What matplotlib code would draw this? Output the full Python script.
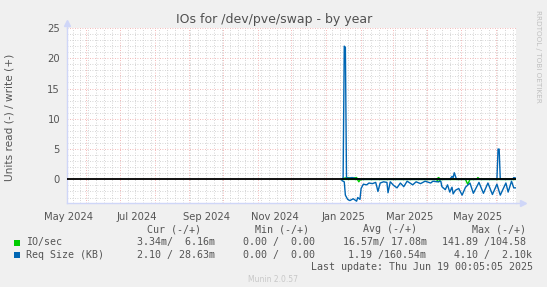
import matplotlib
matplotlib.use('Agg')
import matplotlib.pyplot as plt
import matplotlib.dates as mdates
import pandas as pd

# --- data ---
x_start = '2024-05-15 00:05'
x_end = '2025-06-19 00:05'

# Req Size (KB), read (drawn negative)
req_read_dates = ['2025-01-15', '2025-01-17', '2025-01-18', '2025-01-20', '2025-01-22', '2025-01-25',
                  '2025-01-28', '2025-01-29', '2025-01-31', '2025-02-01', '2025-02-03', '2025-02-06',
                  '2025-02-08', '2025-02-11', '2025-02-14', '2025-02-15', '2025-02-16', '2025-02-18',
                  '2025-02-21', '2025-02-24', '2025-02-25', '2025-02-27', '2025-03-02', '2025-03-05',
                  '2025-03-08', '2025-03-11', '2025-03-14', '2025-03-19', '2025-03-22', '2025-03-26',
                  '2025-03-30', '2025-04-04', '2025-04-06', '2025-04-10', '2025-04-13', '2025-04-14',
                  '2025-04-17', '2025-04-19', '2025-04-21', '2025-04-23', '2025-04-24', '2025-04-26',
                  '2025-04-29', '2025-05-02', '2025-05-05', '2025-05-09', '2025-05-12', '2025-05-17',
                  '2025-05-21', '2025-05-25', '2025-05-29', '2025-06-02', '2025-06-05', '2025-06-10',
                  '2025-06-12', '2025-06-15', '2025-06-17', '2025-06-19']
req_read = [0.2, 0.4, 2.6, 3.3, 3.5, 3.2,
            3.6, 3.0, 3.3, 1.5, 0.8, 0.9,
            0.6, 0.7, 0.5, 1.2, 2.0, 0.6,
            0.4, 0.5, 2.2, 0.4, 1.0, 1.4,
            0.6, 1.2, 0.3, 0.9, 0.4, 0.7,
            0.3, 0.6, 0.3, 0.4, 0.3, 1.2,
            1.7, 0.9, 2.1, 1.3, 2.4, 1.8,
            1.5, 2.6, 1.3, 0.6, 2.3, 0.5,
            2.3, 0.6, 2.5, 0.8, 2.6, 0.6,
            2.1, 0.3, 1.4, 1.4]

# Req Size (KB), write (drawn positive)
req_write_dates = ['2025-01-15', '2025-01-16', '2025-01-17', '2025-01-18', '2025-01-19', '2025-01-21',
                   '2025-01-24', '2025-01-28', '2025-02-01', '2025-04-21', '2025-04-23', '2025-04-24',
                   '2025-04-25', '2025-04-27', '2025-06-02', '2025-06-03', '2025-06-04', '2025-06-05',
                   '2025-06-16', '2025-06-17', '2025-06-19']
req_write = [0.0, 0.3, 22.0, 21.8, 0.3, 0.2,
             0.3, 0.1, 0.0, 0.0, 0.5, 0.3,
             1.1, 0.0, 0.0, 5.0, 5.0, 0.0,
             0.0, 0.3, 0.2]

# IO/sec, read (drawn negative) and write (drawn positive)
io_dates = ['2025-01-15', '2025-01-17', '2025-01-20', '2025-01-24', '2025-01-28', '2025-01-29',
            '2025-01-30', '2025-01-31', '2025-02-02', '2025-04-09', '2025-04-11', '2025-04-13',
            '2025-05-05', '2025-05-07', '2025-05-09', '2025-05-15', '2025-05-16', '2025-05-18',
            '2025-06-19']
io_read = [0.0, 0.0, 0.0, 0.0, 0.0, 0.1,
           0.4, 0.1, 0.0, 0.0, 0.4, 0.0,
           0.0, 0.8, 0.0, 0.0, 0.0, 0.0,
           0.0]
io_write = [0.0, 0.2, 0.3, 0.2, 0.3, 0.0,
            0.0, 0.0, 0.0, 0.0, 0.3, 0.0,
            0.0, 0.0, 0.0, 0.0, 0.3, 0.0,
            0.0]

y_ticks = [0, 5, 10, 15, 20, 25]
label_months = ['2024-05-16', '2024-07-16', '2024-09-16', '2024-11-16',
                '2025-01-16', '2025-03-16', '2025-05-16']

legend_names = ['IO/sec', 'Req Size (KB)']
legend_colors = ['#00cc00', '#0066b3']
cur_vals = ['3.34m/  6.16m', '2.10 / 28.63m']
min_vals = ['0.00 /  0.00', '0.00 /  0.00']
avg_vals = ['16.57m/ 17.08m', '1.19 /160.54m']
max_vals = ['141.89 /104.58', '4.10 /  2.10k']
avg_x = [343, 348]
max_x = [442, 454]

W, H = 547, 287
txt = '#555555'
mono = 'DejaVu Sans Mono'


def px(x, y):
    return x / W, 1 - y / H


fig = plt.figure(figsize=(W / 100, H / 100), dpi=100)
fig.patch.set_facecolor('#f0f0f0')
ax = fig.add_axes([67 / W, 84 / H, 449 / W, 175 / H])
ax.set_facecolor('white')

d_req_r = pd.to_datetime(req_read_dates)
d_req_w = pd.to_datetime(req_write_dates)
d_io = pd.to_datetime(io_dates)

ax.plot(d_io, [-v for v in io_read], color=legend_colors[0], lw=1.0, zorder=3)
ax.plot(d_io, io_write, color=legend_colors[0], lw=1.0, zorder=3)
ax.plot(d_req_r, [-v for v in req_read], color=legend_colors[1], lw=1.0, zorder=4)
ax.plot(d_req_w, req_write, color=legend_colors[1], lw=1.0, zorder=4)
ax.axhline(0, color='black', lw=1.3, zorder=5)

ax.set_xlim(pd.Timestamp(x_start), pd.Timestamp(x_end))
ax.set_ylim(-3.9, 25)

# grids
ax.xaxis.set_major_locator(mdates.MonthLocator())
ax.xaxis.set_minor_locator(mdates.WeekdayLocator(byweekday=mdates.MO))
ax.set_yticks(y_ticks)
ax.set_yticks(range(-3, 26), minor=True)
ax.grid(True, which='minor', color='#c8c8c8', lw=0.6, linestyle=(0, (1, 2)), zorder=1)
ax.grid(True, which='major', color='#f0a0a0', lw=0.6, linestyle=(0, (1, 2)), zorder=2)
ax.tick_params(which='both', length=0)
ax.tick_params(axis='y', labelsize=7.2, labelcolor=txt, pad=5)
ax.set_xticklabels([])

for d in label_months:
    ax.text(pd.Timestamp(d), -0.05, pd.Timestamp(d).strftime('%b %Y'), transform=ax.get_xaxis_transform(),
            ha='center', va='top', fontsize=7.2, color=txt, clip_on=False)

for s in ['top', 'right']:
    ax.spines[s].set_visible(False)
for s in ['left', 'bottom']:
    ax.spines[s].set_color('#cfd6f8')
    ax.spines[s].set_linewidth(1)
ax.plot([1.0, 1.015], [0, 0], color='#cfd6f8', lw=1, transform=ax.transAxes, clip_on=False)
ax.plot(1.015, 0, marker='>', ms=4, color='#cfd6f8', transform=ax.transAxes, clip_on=False)
ax.plot([0, 0], [1.0, 1.03], color='#cfd6f8', lw=1, transform=ax.transAxes, clip_on=False)
ax.plot(0, 1.03, marker='^', ms=4, color='#cfd6f8', transform=ax.transAxes, clip_on=False)

fig.text(*px(274, 20), 'IOs for /dev/pve/swap - by year', ha='center', va='center', fontsize=9, color='#505050')
fig.text(*px(10, 117), 'Units read (-) / write (+)', rotation=90, ha='center', va='center',
         fontsize=7.6, color=txt)
fig.text(*px(538, 56), 'RRDTOOL / TOBI OETIKER', rotation=270, ha='center', va='center',
         fontsize=5.2, color='#c0c0c0')

# legend block
fs = 7.2
for label, x_end_px in [('Cur (-/+)', 201), ('Min (-/+)', 309), ('Avg (-/+)', 417), ('Max (-/+)', 526)]:
    fig.text(*px(x_end_px, 229.5), label, ha='right', va='center', fontsize=fs, family=mono, color=txt)

row_y = [242.5, 255]
for i in range(2):
    y = row_y[i]
    fig.patches.append(plt.Rectangle(px(14, y + 3), 6 / W, 6 / H, transform=fig.transFigure,
                                     facecolor=legend_colors[i], edgecolor='none'))
    fig.text(*px(26, y), legend_names[i], ha='left', va='center', fontsize=fs, family=mono, color=txt)
    fig.text(*px(137, y), cur_vals[i], ha='left', va='center', fontsize=fs, family=mono, color=txt)
    fig.text(*px(243, y), min_vals[i], ha='left', va='center', fontsize=fs, family=mono, color=txt)
    fig.text(*px(avg_x[i], y), avg_vals[i], ha='left', va='center', fontsize=fs, family=mono, color=txt)
    fig.text(*px(max_x[i], y), max_vals[i], ha='left', va='center', fontsize=fs, family=mono, color=txt)

fig.text(*px(533, 267), 'Last update: Thu Jun 19 00:05:05 2025', ha='right', va='center',
         fontsize=fs, family=mono, color=txt)
fig.text(*px(273, 280), 'Munin 2.0.57', ha='center', va='center', fontsize=5.5, color='#c8c8c8')

fig.savefig('out.png', dpi=100, facecolor=fig.get_facecolor())
